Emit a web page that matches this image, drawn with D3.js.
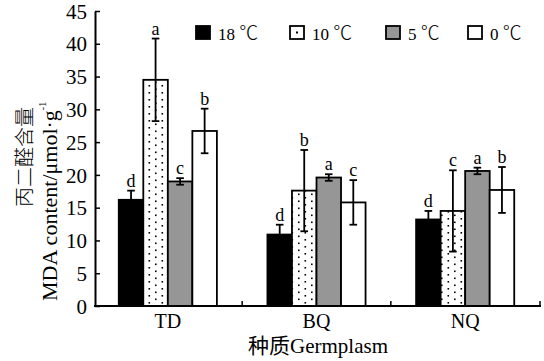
<!DOCTYPE html>
<html><head><meta charset="utf-8">
<script src="https://cdn.jsdelivr.net/npm/d3@7"></script>
<style>
html,body{margin:0;padding:0;background:#fff;}
text{font-family:"Liberation Serif","Times New Roman","Noto Sans CJK SC",serif;fill:#000;}
</style></head><body>
<svg id="c" width="544" height="361"></svg>
<script>
const categories = ["TD", "BQ", "NQ"];
const seriesNames = ["18 ℃", "10 ℃", "5 ℃", "0 ℃"];
const values18 = [16.2, 10.9, 13.2];
const values10 = [34.5, 17.6, 14.5];
const values5  = [19.0, 19.6, 20.6];
const values0  = [26.7, 15.8, 17.7];
const err18 = [1.4, 1.5, 1.3];
const err10 = [6.3, 6.2, 6.2];
const err5  = [0.5, 0.5, 0.5];
const err0  = [3.4, 3.4, 3.5];
const letters18 = ["d", "d", "d"];
const letters10 = ["a", "b", "c"];
const letters5  = ["c", "a", "a"];
const letters0  = ["b", "c", "b"];
const yTicks = [0, 5, 10, 15, 20, 25, 30, 35, 40, 45];

const seriesVals = [values18, values10, values5, values0];
const seriesErr = [err18, err10, err5, err0];
const seriesLet = [letters18, letters10, letters5, letters0];
const fills = ["#000", "url(#dots)", "#969696", "#fff"];

const svg = d3.select("#c");
const defs = svg.append("defs");
const pat = defs.append("pattern").attr("id", "dots").attr("patternUnits", "userSpaceOnUse")
  .attr("width", 13).attr("height", 7).attr("x", 0).attr("y", 0);
pat.append("rect").attr("width", 13).attr("height", 7).attr("fill", "#fff");
pat.append("rect").attr("x", 5.5).attr("y", 1).attr("width", 1.6).attr("height", 1.6).attr("fill", "#000");
pat.append("rect").attr("x", 12).attr("y", 4.5).attr("width", 1.6).attr("height", 1.6).attr("fill", "#000");
pat.append("rect").attr("x", -1).attr("y", 4.5).attr("width", 1.6).attr("height", 1.6).attr("fill", "#000");

const x = d3.scaleBand().domain(categories).range([93.5, 539.5]).padding(0);
const groupW = x.bandwidth() * 0.66;
const xs = d3.scaleBand().domain(d3.range(4)).range([0, groupW]).padding(0);
const y = d3.scaleLinear().domain([0, 45]).range([306, 11]);

// bars
const data = [];
categories.forEach((c, ci) => {
  seriesVals.forEach((sv, si) => {
    data.push({c, si, v: sv[ci], e: seriesErr[si][ci], l: seriesLet[si][ci]});
  });
});
const bx = d => x(d.c) + (x.bandwidth() - groupW) / 2 + xs(d.si);

svg.append("g").selectAll("rect").data(data).join("rect")
  .attr("x", bx).attr("y", d => y(d.v))
  .attr("width", xs.bandwidth()).attr("height", d => y(0) - y(d.v))
  .attr("fill", d => fills[d.si]).attr("stroke", "#000").attr("stroke-width", 1.8);

// error bars
const eg = svg.append("g").attr("stroke", "#000").attr("stroke-width", 1.8);
data.forEach(d => {
  const cx = bx(d) + xs.bandwidth() / 2;
  eg.append("line").attr("x1", cx).attr("x2", cx).attr("y1", y(d.v + d.e)).attr("y2", y(d.v - d.e));
  eg.append("line").attr("x1", cx - 3.8).attr("x2", cx + 3.8).attr("y1", y(d.v + d.e)).attr("y2", y(d.v + d.e));
  eg.append("line").attr("x1", cx - 3.8).attr("x2", cx + 3.8).attr("y1", y(d.v - d.e)).attr("y2", y(d.v - d.e));
});
svg.append("g").selectAll("text").data(data).join("text")
  .attr("x", d => bx(d) + xs.bandwidth() / 2).attr("y", d => y(d.v + d.e) - 4)
  .attr("text-anchor", "middle").attr("font-size", 18).text(d => d.l);

// y axis
const ya = svg.append("g").attr("transform", "translate(95,0)")
  .call(d3.axisLeft(y).tickValues(yTicks).tickSizeInner(-5).tickSizeOuter(0).tickPadding(8));
ya.select(".domain").attr("stroke-width", 2);
ya.selectAll(".tick line").attr("stroke-width", 1.5);
ya.selectAll("text").attr("font-size", 21).attr("dy", "0.34em");

// x axis
const xa = svg.append("g").attr("transform", "translate(0,306)")
  .call(d3.axisBottom(x).tickSize(0).tickPadding(22));
xa.select(".domain").remove();
xa.selectAll("text").attr("font-size", 20).attr("dy", 0).attr("y", 22);
svg.append("line").attr("x1", 94).attr("x2", 541).attr("y1", 306).attr("y2", 306)
  .attr("stroke", "#000").attr("stroke-width", 2);
svg.append("g").selectAll("line").data(categories.slice(1).concat(["end"])).join("line")
  .attr("x1", d => d === "end" ? 540 : x(d)).attr("x2", d => d === "end" ? 540 : x(d))
  .attr("y1", 306).attr("y2", 301).attr("stroke", "#000").attr("stroke-width", 1.5);

// axis titles
svg.append("text").attr("x", 318).attr("y", 353).attr("text-anchor", "middle")
  .attr("font-size", 21).text("种质Germplasm");
svg.append("text").attr("transform", "translate(32,157) rotate(-90)").attr("text-anchor", "middle")
  .attr("font-size", 20).attr("font-weight", 300).text("丙二醛含量");
const t2 = svg.append("text").attr("transform", "translate(57,301) rotate(-90)").attr("text-anchor", "start")
  .attr("font-size", 22);
t2.append("tspan").text("MDA content/μmol·g");
t2.append("tspan").attr("font-size", 10).attr("dy", -11).text("-1");

// legend
const legX = [196, 290, 386, 468];
const lg = svg.append("g").selectAll("g").data(seriesNames).join("g")
  .attr("transform", (d, i) => `translate(${legX[i]},26)`);
lg.append("rect").attr("width", 14).attr("height", 13)
  .attr("fill", (d, i) => i === 1 ? "#fff" : fills[i]).attr("stroke", "#000").attr("stroke-width", 1.8);
lg.filter((d, i) => i === 1).append("rect").attr("x", 6).attr("y", 5.5).attr("width", 2).attr("height", 2).attr("fill", "#000");
const lt = lg.append("text").attr("x", 22).attr("y", 13.5).attr("font-size", 17);
lt.append("tspan").text(d => d.split(" ")[0] + " ");
lt.append("tspan").attr("font-family", "Noto Sans CJK SC").attr("font-weight", 300).attr("font-size", 19)
  .text(d => d.split(" ")[1]);
</script></body></html>
